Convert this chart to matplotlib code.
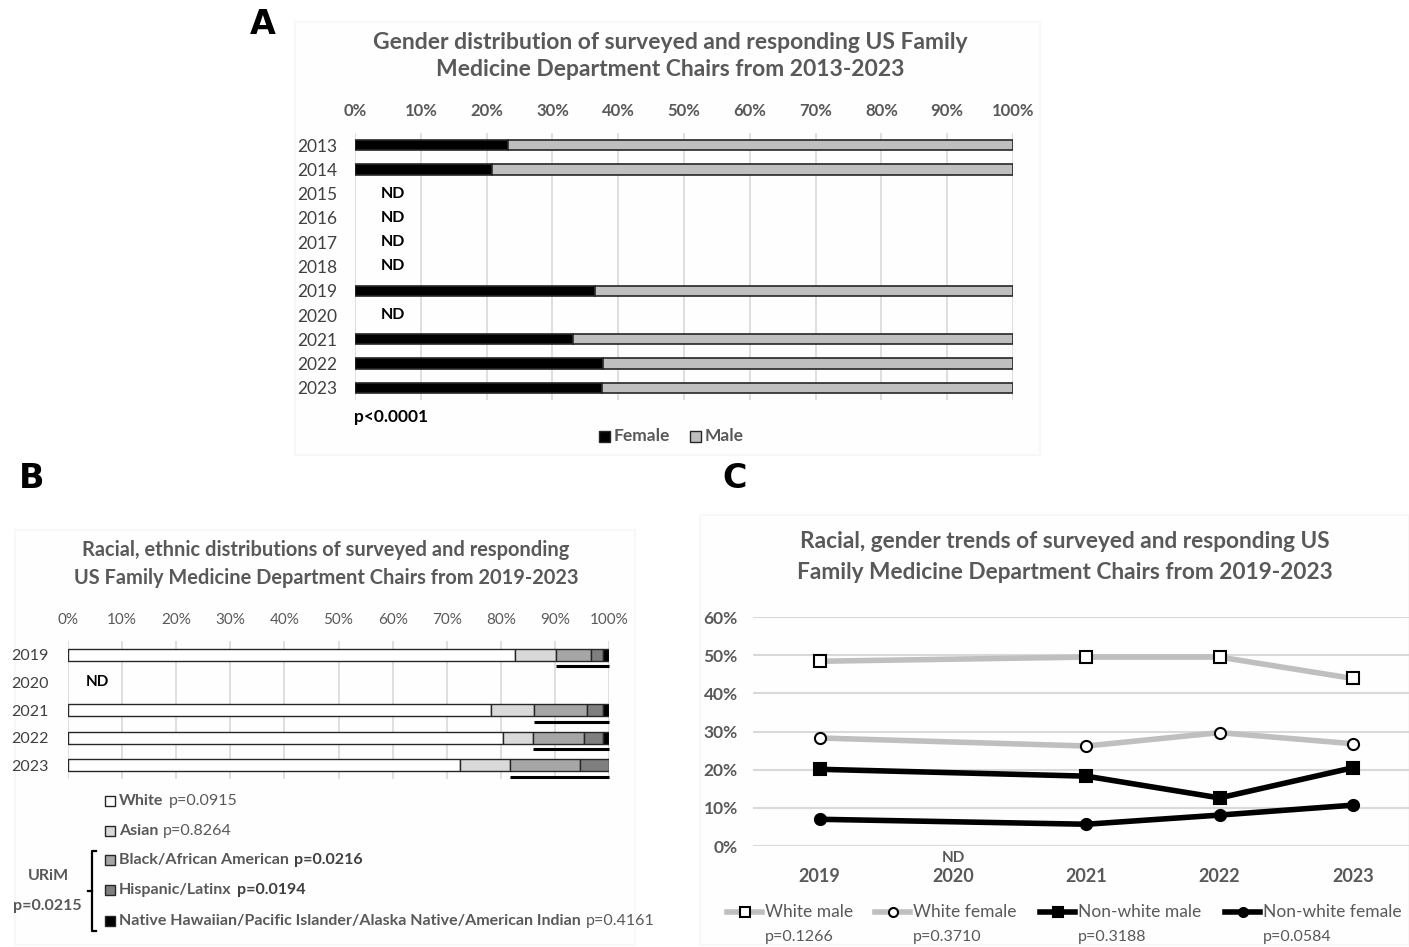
import matplotlib
matplotlib.use("Agg")
import matplotlib.pyplot as plt
import numpy as np
from matplotlib.lines import Line2D
from matplotlib.patches import Rectangle

plt.rcParams['font.family'] = ['Lato', 'DejaVu Sans']

GREY_TXT = '#595959'
GRID = '#d9d9d9'

# ---------------- Panel A data: gender by year ----------------
years_a = ['2013', '2014', '2015', '2016', '2017', '2018', '2019', '2020', '2021', '2022', '2023']
female_pct = [23.3, 20.8, None, None, None, None, 36.5, None, 33.1, 37.7, 37.5]

# ---------------- Panel B data: race/ethnicity by year ----------------
years_b = ['2019', '2020', '2021', '2022', '2023']
white_pct = [82.6, None, 78.2, 80.4, 72.4]
asian_pct = [7.6, None, 8.0, 5.5, 9.3]
black_pct = [6.4, None, 9.7, 9.4, 12.9]
hispanic_pct = [2.3, None, 3.0, 3.6, 5.4]
native_pct = [1.1, None, 1.1, 1.1, 0.0]
race_names = ['White', 'Asian', 'Black/African American', 'Hispanic/Latinx',
              'Native Hawaiian/Pacific Islander/Alaska Native/American Indian']
race_pvals = ['p=0.0915', 'p=0.8264', 'p=0.0216', 'p=0.0194', 'p=0.4161']
race_p_bold = [False, False, True, True, False]
race_colors = ['#ffffff', '#d9d9d9', '#a6a6a6', '#7f7f7f', '#000000']

# ---------------- Panel C data: race x gender trends ----------------
years_c = ['2019', '2020', '2021', '2022', '2023']
white_male = [48.4, None, 49.5, 49.5, 43.9]
white_female = [28.3, None, 26.2, 29.7, 26.8]
nonwhite_male = [20.1, None, 18.3, 12.6, 20.5]
nonwhite_female = [7.0, None, 5.7, 8.1, 10.7]
trend_names = ['White male', 'White female', 'Non-white male', 'Non-white female']
trend_pvals = ['p=0.1266', 'p=0.3710', 'p=0.3188', 'p=0.0584']

W, H = 1409, 947
fig = plt.figure(figsize=(W / 100, H / 100), dpi=100)
fig.patch.set_facecolor('white')


def fx(px):
    return px / W


def fy(py):
    return 1 - py / H


# faint panel frames
for (x0, y0, x1, y1) in [(295, 22, 1040, 455), (15, 530, 635, 945), (700, 515, 1409, 945)]:
    fig.add_artist(Rectangle((fx(x0), fy(y1)), fx(x1 - x0), (y1 - y0) / H,
                             transform=fig.transFigure, facecolor='#fefefe',
                             edgecolor='#f8f8f8', lw=1.5, zorder=0))

# panel letters
fig.text(fx(263), fy(25), 'A', fontsize=24, fontweight='bold', ha='center', va='center', family=['DejaVu Sans'])
fig.text(fx(32), fy(478), 'B', fontsize=24, fontweight='bold', ha='center', va='center', family=['DejaVu Sans'])
fig.text(fx(735), fy(478), 'C', fontsize=24, fontweight='bold', ha='center', va='center', family=['DejaVu Sans'])

# ================= Panel A =================
axA = fig.add_axes([fx(355), fy(400), fx(1013 - 355), (400 - 133) / H])
ya = np.arange(len(years_a))
for i, f in enumerate(female_pct):
    if f is None:
        axA.text(5.8, i, 'ND', ha='center', va='center', fontsize=11.5, fontweight='bold', color='black')
        continue
    axA.barh(i, f, height=0.42, color='black', edgecolor='#262626', lw=1.2, zorder=3)
    axA.barh(i, 100 - f, left=f, height=0.42, color='#bfbfbf', edgecolor='#262626', lw=1.2, zorder=3)
axA.set_xlim(0, 100)
axA.set_ylim(len(years_a) - 0.5, -0.5)
axA.set_yticks(ya)
axA.set_yticklabels(years_a, fontsize=12.5, color='#404040')
axA.set_xticks(np.arange(0, 101, 10))
axA.set_xticklabels([f'{v}%' for v in range(0, 101, 10)], fontsize=12, fontweight='bold', color=GREY_TXT)
axA.xaxis.tick_top()
axA.tick_params(axis='x', length=0, pad=10)
axA.tick_params(axis='y', length=0, pad=13)
axA.grid(axis='x', color=GRID, lw=1.2, zorder=0)
for s in axA.spines.values():
    s.set_visible(False)
axA.set_facecolor('none')
fig.text(fx(670), fy(56), 'Gender distribution of surveyed and responding US Family\nMedicine Department Chairs from 2013-2023',
         ha='center', va='center', fontsize=16.5, fontweight='bold', color=GREY_TXT, linespacing=1.38)
fig.text(fx(354), fy(417), 'p<0.0001', ha='left', va='center', fontsize=12.5, fontweight='bold', color='black')
# legend A
fig.add_artist(Rectangle((fx(599), fy(442)), fx(11), 11 / H, transform=fig.transFigure,
                         facecolor='black', edgecolor='#262626', lw=1))
fig.text(fx(614), fy(436), 'Female', ha='left', va='center', fontsize=12.5, fontweight='bold', color=GREY_TXT)
fig.add_artist(Rectangle((fx(690), fy(442)), fx(11), 11 / H, transform=fig.transFigure,
                         facecolor='#bfbfbf', edgecolor='#262626', lw=1))
fig.text(fx(705), fy(436), 'Male', ha='left', va='center', fontsize=12.5, fontweight='bold', color=GREY_TXT)

# ================= Panel B =================
axB = fig.add_axes([fx(68), fy(779), fx(609 - 68), (779 - 641) / H])
segments = [white_pct, asian_pct, black_pct, hispanic_pct, native_pct]
for i in range(len(years_b)):
    if white_pct[i] is None:
        axB.text(5.5, i, 'ND', ha='center', va='center', fontsize=11, fontweight='bold', color='black')
        continue
    left = 0.0
    for seg, col in zip(segments, race_colors):
        v = seg[i]
        if v > 0:
            axB.barh(i, v, left=left, height=0.44, color=col, edgecolor='#262626', lw=1.0, zorder=3)
        left += v
    # underline marking the URiM share
    urim_start = white_pct[i] + asian_pct[i]
    axB.plot([urim_start, 100], [i + 0.42, i + 0.42], color='black', lw=2.2, solid_capstyle='butt',
             zorder=4, clip_on=False)
axB.set_xlim(0, 100)
axB.set_ylim(len(years_b) - 0.5, -0.5)
axB.set_yticks(np.arange(len(years_b)))
axB.set_yticklabels(years_b, fontsize=11.5, color='#404040')
axB.set_xticks(np.arange(0, 101, 10))
axB.set_xticklabels([f'{v}%' for v in range(0, 101, 10)], fontsize=11, color=GREY_TXT)
axB.xaxis.tick_top()
axB.tick_params(axis='x', length=0, pad=10)
axB.tick_params(axis='y', length=0, pad=14)
axB.grid(axis='x', color=GRID, lw=1.2, zorder=0)
for s in axB.spines.values():
    s.set_visible(False)
axB.set_facecolor('none')
fig.text(fx(326), fy(564), 'Racial, ethnic distributions of surveyed and responding\nUS Family Medicine Department Chairs from 2019-2023',
         ha='center', va='center', fontsize=14.4, fontweight='bold', color=GREY_TXT, linespacing=1.45)

# legend B with mixed weights
renderer = fig.canvas.get_renderer()
leg_y = [801, 831, 860, 890, 921]
for name, pv, pb, col, yy in zip(race_names, race_pvals, race_p_bold, race_colors, leg_y):
    fig.add_artist(Rectangle((fx(105), fy(yy + 5)), fx(10), 10 / H, transform=fig.transFigure,
                             facecolor=col, edgecolor='#262626', lw=1))
    t = fig.text(fx(119), fy(yy), name, ha='left', va='center', fontsize=11.5, fontweight='bold', color=GREY_TXT)
    bb = t.get_window_extent(renderer)
    fig.text((bb.x1 + 5) / W, fy(yy), pv, ha='left', va='center', fontsize=11.5,
             fontweight='bold' if pb else 'normal', color='#404040' if pb else GREY_TXT)
# URiM bracket
bx = fx(92)
fig.add_artist(Line2D([bx + fx(4), bx, bx, bx + fx(4)], [fy(851), fy(851), fy(931), fy(931)],
                      transform=fig.transFigure, color='black', lw=1.6))
fig.add_artist(Line2D([bx - fx(4), bx], [fy(891), fy(891)], transform=fig.transFigure, color='black', lw=1.6))
fig.text(fx(48), fy(876), 'URiM', ha='center', va='center', fontsize=11.5, fontweight='bold', color=GREY_TXT)
fig.text(fx(47), fy(906), 'p=0.0215', ha='center', va='center', fontsize=11.5, fontweight='bold', color=GREY_TXT)

# ================= Panel C =================
axC = fig.add_axes([fx(753), fy(846), fx(W - 753), (846 - 617) / H])
xc = np.arange(len(years_c))
series = [
    (white_male, '#bfbfbf', 's', 'white', 'black'),
    (white_female, '#bfbfbf', 'o', 'white', 'black'),
    (nonwhite_male, 'black', 's', 'black', 'black'),
    (nonwhite_female, 'black', 'o', 'black', 'black'),
]
for vals, lc, mk, mfc, mec in series:
    xs = [x for x, v in zip(xc, vals) if v is not None]
    ys = [v / 100 for v in vals if v is not None]
    axC.plot(xs, ys, color=lc, lw=4, marker=mk, markersize=8.5 if mk == 's' else 8,
             markerfacecolor=mfc, markeredgecolor=mec, markeredgewidth=1.5, zorder=3, clip_on=False)
axC.set_xlim(-0.5, -0.5 + (W - 753) / 133.3)
axC.set_ylim(0, 0.6)
axC.set_yticks(np.arange(0, 0.61, 0.1))
axC.set_yticklabels([f'{int(round(v * 100))}%' for v in np.arange(0, 0.61, 0.1)],
                    fontsize=12.5, fontweight='bold', color=GREY_TXT)
axC.set_xticks(xc)
axC.set_xticklabels(years_c, fontsize=13, fontweight='bold', color=GREY_TXT)
axC.tick_params(axis='both', length=0)
axC.tick_params(axis='x', pad=16)
axC.tick_params(axis='y', pad=11)
axC.grid(axis='y', color=GRID, lw=1.5, zorder=0)
for s in axC.spines.values():
    s.set_visible(False)
axC.set_facecolor('none')
axC.text(1, -0.02, 'ND', transform=axC.get_xaxis_transform(), ha='center', va='top',
         fontsize=11, fontweight='bold', color=GREY_TXT)
fig.text(fx(1065), fy(557), 'Racial, gender trends of surveyed and responding US\nFamily Medicine Department Chairs from 2019-2023',
         ha='center', va='center', fontsize=16.3, fontweight='bold', color=GREY_TXT, linespacing=1.6)

# legend C
leg_x = [727, 875, 1040, 1225]
for (vals, lc, mk, mfc, mec), name, pv, lx in zip(series, trend_names, trend_pvals, leg_x):
    fig.add_artist(Line2D([fx(lx), fx(lx + 35)], [fy(912), fy(912)], transform=fig.transFigure,
                          color=lc, lw=4))
    fig.add_artist(Line2D([fx(lx + 17.5)], [fy(912)], transform=fig.transFigure, marker=mk,
                          markersize=7 if mk == 's' else 6.5, markerfacecolor=mfc,
                          markeredgecolor=mec, markeredgewidth=1.5, lw=0))
    fig.text(fx(lx + 38), fy(912), name, ha='left', va='center', fontsize=12.5, color=GREY_TXT)
    fig.text(fx(lx + 72), fy(937), pv, ha='center', va='center', fontsize=11.5, color=GREY_TXT)

fig.savefig('out.png', dpi=100, facecolor='white')
